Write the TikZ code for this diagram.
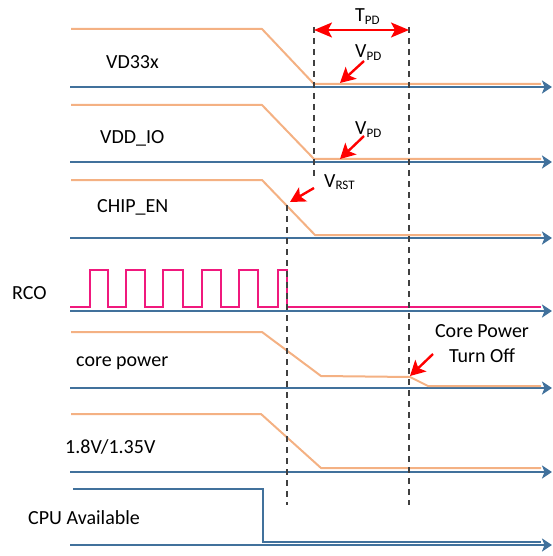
\documentclass[tikz,border=0pt]{standalone}
\usepackage{fontspec}
\setmainfont{Carlito}
\usetikzlibrary{arrows.meta,positioning,calc}
\definecolor{axisblue}{HTML}{41719C}
\definecolor{railorange}{HTML}{F4B183}
\definecolor{rcopink}{HTML}{F0197D}
\definecolor{markred}{HTML}{FF0000}
\definecolor{guidegray}{HTML}{404040}
\tikzset{
  axis/.style={-{Stealth[length=10pt,width=13pt,inset=2.5pt]}, line width=2pt, color=axisblue},
  rail/.style={line width=2pt, color=railorange, line join=round},
  cpurail/.style={line width=2pt, color=axisblue},
  clk/.style={line width=2pt, color=rcopink},
  guide/.style={dash pattern=on 6pt off 5pt, line width=1.5pt, color=guidegray},
  callout/.style={-{Stealth[length=15pt,width=16pt,inset=3.5pt]}, line width=2.4pt, color=markred},
  tspan/.style={{Stealth[length=18pt,width=15pt,inset=4pt]}-{Stealth[length=18pt,width=15pt,inset=4pt]},
    line width=2pt, color=markred},
  lbl/.style={font=\fontsize{20}{24}\selectfont, anchor=base west, inner sep=0pt},
}
\newcommand{\lowsub}[1]{\raisebox{-0.25ex}{\fontsize{13}{14}\selectfont #1}}

\begin{document}
\begin{tikzpicture}[x=1pt,y=-1pt]
  \useasboundingbox (0,0) rectangle (552,556);
  % time axes
  \foreach \y in {87,162,238,311,388,472,545}
    \draw[axis] (70,\y) -- (552,\y);
  % rails
  \draw[rail] (71,29) -- (262,29) -- (314,84) -- (541,84);
  \draw[rail] (71,105) -- (262,105) -- (314,159) -- (541,159);
  \draw[rail] (71,180) -- (262,180) -- (315,235) -- (541,235);
  \draw[rail] (71,332) -- (262,332) -- (321,376) -- (410,377) -- (428,386) -- (541,386);
  \draw[rail] (71,414) -- (261,414) -- (321,468) -- (541,468);
  \draw[cpurail] (73,489) -- (263,489) -- (263,542) -- (541,542);
  % RCO clock
  \draw[clk] (70,307)
    \foreach \r/\f in {90/108,126/145,163/183,202/221,239/258,278/287} { -- (\r,307) -- (\r,270) -- (\f,270) -- (\f,307) }
    -- (541,307);
  % guides
  \coordinate (gA) at (314,27);
  \coordinate (gB) at (409,27);
  \coordinate (gR) at (287,205);
  \draw[guide] (gA) -- (314,178);
  \draw[guide] (gB) -- (409,505);
  \draw[guide] (gR) -- (287,505);
  % labels
  \node[lbl] (vd33)  at (106,69)  {VD33x};
  \node[lbl] (vddio) at (100,144) {VDD\_IO};
  \node[lbl] (chip)  at (97,212)  {CHIP\_EN};
  \node[lbl] (rco)   at (12,299)  {RCO};
  \node[lbl] (core)  at (76,366)  {core power};
  \node[lbl] (lv)    at (65,453)  {1.8V/1.35V};
  \node[lbl] (cpu)   at (28,524)  {CPU Available};
  % marks
  \coordinate (tpdL) at (314,30);
  \coordinate (tpdR) at (409,30);
  \draw[tspan] (tpdL) -- (tpdR);
  \node[lbl] (tpd)  at (355,22)  {T\lowsub{PD}};
  \node[lbl] (vpd1) at (355,58)  {V\lowsub{PD}};
  \node[lbl] (vpd2) at (355,135) {V\lowsub{PD}};
  \node[lbl] (vrst) at (324,187) {V\lowsub{RST}};
  \node[lbl, anchor=base] (off1) at (482,337) {Core Power};
  \node[lbl, anchor=base] (off2) at (482,362) {Turn Off};
  \coordinate (vpd1t) at (340,83);
  \coordinate (vpd2t) at (340,159);
  \coordinate (vrstt) at (290,202);
  \coordinate (offt)  at (410,376);
  \draw[callout] (364,61)  -- (vpd1t);
  \draw[callout] (364,136) -- (vpd2t);
  \draw[callout] (314,188) -- (vrstt);
  \draw[callout] (433,354) -- (offt);
\end{tikzpicture}
\end{document}
